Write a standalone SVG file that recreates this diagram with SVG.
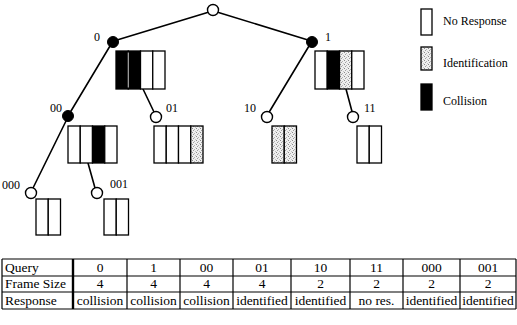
<svg xmlns="http://www.w3.org/2000/svg" width="517" height="325" viewBox="0 0 517 325">
  <defs>
    <pattern id="stipple" width="4" height="4" patternUnits="userSpaceOnUse">
      <rect width="4" height="4" fill="#efefef"/>
      <rect x="0" y="0" width="1" height="1" fill="#8a8a8a"/>
      <rect x="2" y="1" width="1" height="1" fill="#b4b4b4"/>
      <rect x="1" y="2" width="1" height="1" fill="#9e9e9e"/>
      <rect x="3" y="3" width="1" height="1" fill="#c4c4c4"/>
    </pattern>
  </defs>
  <style>
    .edge { stroke: #000; stroke-width: 1.6; fill: none; stroke-linecap: round; }
    .open { fill: #fff; stroke: #000; stroke-width: 1.4; }
    .hit { fill: #000; stroke: #000; stroke-width: 1; }
    .n { fill: #fff; stroke: #000; stroke-width: 1.3; }
    .i { fill: url(#stipple); stroke: #000; stroke-width: 1.3; }
    .c { fill: #000; stroke: #000; stroke-width: 1.3; }
    .gap { stroke: #fff; stroke-width: 0.8; }
    .lbl { font-family: "Liberation Serif", serif; font-size: 12px; fill: #000; }
    .leg { font-family: "Liberation Serif", serif; font-size: 12px; fill: #000; }
    .tb { font-family: "Liberation Serif", serif; font-size: 13.5px; fill: #000; }
    .tc { font-family: "Liberation Serif", serif; font-size: 13.5px; fill: #000; text-anchor: middle; }
    .rule { stroke: #000; stroke-width: 1.2; }
  </style>
  <rect width="517" height="325" fill="#fff"/>

  <!-- tree edges -->
  <g id="connectors">
    <line class="edge" x1="207.5" y1="12.5" x2="117" y2="40"/>
    <line class="edge" x1="218.5" y1="12.5" x2="308" y2="40"/>
    <line class="edge" x1="110" y1="46" x2="71" y2="111"/>
    <line class="edge" x1="143" y1="89" x2="154" y2="112"/>
    <line class="edge" x1="309" y1="46" x2="269.5" y2="111.5"/>
    <line class="edge" x1="346" y1="89" x2="352" y2="111.5"/>
    <line class="edge" x1="66" y1="121" x2="33" y2="188"/>
    <line class="edge" x1="88" y1="163" x2="95" y2="188"/>
  </g>

  <!-- root -->
  <g id="node-root">
    <circle class="open" cx="213" cy="10" r="5.5"/>
  </g>

  <!-- query 0 -->
  <g id="node-0">
    <circle class="hit" cx="113" cy="42" r="5.5"/>
    <text class="lbl" x="94" y="41">0</text>
    <rect class="c" x="116" y="51" width="12.25" height="38"/>
    <rect class="c" x="128.25" y="51" width="12.25" height="38"/>
    <line class="gap" x1="128.25" y1="52.5" x2="128.25" y2="87.5"/>
    <rect class="n" x="140.5" y="51" width="12.25" height="38"/>
    <rect class="n" x="152.75" y="51" width="12.25" height="38"/>
  </g>

  <!-- query 1 -->
  <g id="node-1">
    <circle class="hit" cx="312" cy="42" r="5.5"/>
    <text class="lbl" x="325" y="41">1</text>
    <rect class="n" x="315" y="51" width="12.25" height="38"/>
    <rect class="c" x="327.25" y="51" width="12.25" height="38"/>
    <rect class="i" x="339.5" y="51" width="12.25" height="38"/>
    <rect class="n" x="351.75" y="51" width="12.25" height="38"/>
  </g>

  <!-- query 00 -->
  <g id="node-00">
    <circle class="hit" cx="68" cy="116" r="5.5"/>
    <text class="lbl" x="50" y="112">00</text>
    <rect class="n" x="68" y="126" width="12.25" height="37"/>
    <rect class="n" x="80.25" y="126" width="12.25" height="37"/>
    <rect class="c" x="92.5" y="126" width="12.25" height="37"/>
    <rect class="n" x="104.75" y="126" width="12.25" height="37"/>
  </g>

  <!-- query 01 -->
  <g id="node-01">
    <circle class="open" cx="156" cy="117" r="5.5"/>
    <text class="lbl" x="166" y="112">01</text>
    <rect class="n" x="154" y="126" width="12.25" height="37"/>
    <rect class="n" x="166.25" y="126" width="12.25" height="37"/>
    <rect class="n" x="178.5" y="126" width="12.25" height="37"/>
    <rect class="i" x="190.75" y="126" width="12.25" height="37"/>
  </g>

  <!-- query 10 -->
  <g id="node-10">
    <circle class="open" cx="267" cy="117" r="5.5"/>
    <text class="lbl" x="244" y="112">10</text>
    <rect class="i" x="272" y="126" width="12.25" height="37"/>
    <rect class="i" x="284.25" y="126" width="12.25" height="37"/>
  </g>

  <!-- query 11 -->
  <g id="node-11">
    <circle class="open" cx="353" cy="117" r="5.5"/>
    <text class="lbl" x="364" y="112">11</text>
    <rect class="n" x="357" y="126" width="12.25" height="37"/>
    <rect class="n" x="369.25" y="126" width="12.25" height="37"/>
  </g>

  <!-- query 000 -->
  <g id="node-000">
    <circle class="open" cx="31" cy="193" r="5.5"/>
    <text class="lbl" x="2" y="189">000</text>
    <rect class="n" x="36" y="199" width="12.25" height="36"/>
    <rect class="n" x="48.25" y="199" width="12.25" height="36"/>
  </g>

  <!-- query 001 -->
  <g id="node-001">
    <circle class="open" cx="97" cy="193" r="5.5"/>
    <text class="lbl" x="110" y="188">001</text>
    <rect class="n" x="104" y="199" width="12.25" height="36"/>
    <rect class="n" x="116.25" y="199" width="12.25" height="36"/>
  </g>

  <!-- legend -->
  <g id="legend">
    <rect class="n" x="421" y="9" width="11" height="26"/>
    <text class="leg" x="443" y="25">No Response</text>
    <rect class="i" x="421" y="47" width="11" height="23"/>
    <text class="leg" x="443" y="67">Identification</text>
    <rect class="c" x="421" y="84" width="11" height="26"/>
    <text class="leg" x="443" y="105">Collision</text>
  </g>

  <!-- query table -->
  <g id="table">
    <line class="rule" x1="2" y1="259" x2="516" y2="259"/>
    <line class="rule" x1="2" y1="276" x2="516" y2="276"/>
    <line class="rule" x1="2" y1="292" x2="516" y2="292"/>
    <line class="rule" x1="2" y1="309" x2="516" y2="309"/>
    <line class="rule" x1="2" y1="259" x2="2" y2="309"/>
    <line x1="73" y1="259" x2="73" y2="309" stroke="#000" stroke-width="2.4"/>
    <line class="rule" x1="127" y1="259" x2="127" y2="309"/>
    <line class="rule" x1="180" y1="259" x2="180" y2="309"/>
    <line class="rule" x1="233" y1="259" x2="233" y2="309"/>
    <line class="rule" x1="291" y1="259" x2="291" y2="309"/>
    <line class="rule" x1="350" y1="259" x2="350" y2="309"/>
    <line class="rule" x1="403" y1="259" x2="403" y2="309"/>
    <line class="rule" x1="460" y1="259" x2="460" y2="309"/>
    <line class="rule" x1="516" y1="259" x2="516" y2="309"/>

    <text class="tb" x="5" y="272">Query</text>
    <text class="tb" x="5" y="288">Frame Size</text>
    <text class="tb" x="5" y="305">Response</text>

    <text class="tc" x="100" y="272">0</text>
    <text class="tc" x="153.5" y="272">1</text>
    <text class="tc" x="206.5" y="272">00</text>
    <text class="tc" x="262" y="272">01</text>
    <text class="tc" x="320.5" y="272">10</text>
    <text class="tc" x="376.5" y="272">11</text>
    <text class="tc" x="431.5" y="272">000</text>
    <text class="tc" x="488" y="272">001</text>

    <text class="tc" x="100" y="288">4</text>
    <text class="tc" x="153.5" y="288">4</text>
    <text class="tc" x="206.5" y="288">4</text>
    <text class="tc" x="262" y="288">4</text>
    <text class="tc" x="320.5" y="288">2</text>
    <text class="tc" x="376.5" y="288">2</text>
    <text class="tc" x="431.5" y="288">2</text>
    <text class="tc" x="488" y="288">2</text>

    <text class="tc" x="100" y="305">collision</text>
    <text class="tc" x="153.5" y="305">collision</text>
    <text class="tc" x="206.5" y="305">collision</text>
    <text class="tc" x="262" y="305">identified</text>
    <text class="tc" x="320.5" y="305">identified</text>
    <text class="tc" x="376.5" y="305">no res.</text>
    <text class="tc" x="431.5" y="305">identified</text>
    <text class="tc" x="488" y="305">identified</text>
  </g>
</svg>
